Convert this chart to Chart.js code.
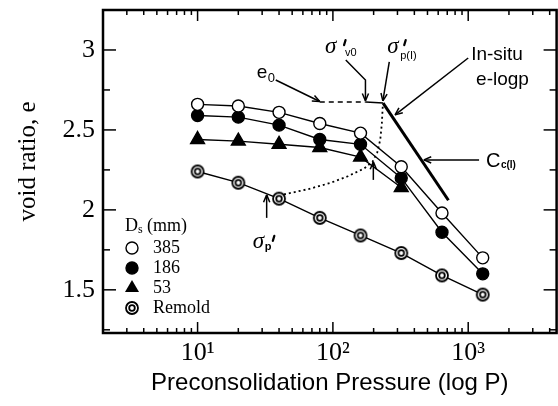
<!DOCTYPE html>
<html>
<head>
<meta charset="utf-8">
<script src="https://cdn.jsdelivr.net/npm/chart.js@4.4.0/dist/chart.umd.min.js"></script>
<style>
  html, body { margin: 0; padding: 0; background: #fff; overflow: hidden; }
  canvas { display: block; }
</style>
</head>
<body>
<canvas id="elogp" width="566" height="406"></canvas>
<script>
// consolidation curves (void ratio vs. pressure) for three sample sizes and remolded clay
const pressure = [10, 20, 40, 80, 160, 320, 640, 1280];
const voidD385 = [2.66, 2.65, 2.61, 2.54, 2.48, 2.27, 1.98, 1.70];
const voidD186 = [2.59, 2.58, 2.53, 2.44, 2.41, 2.20, 1.86, 1.60];
const voidD53 = [2.44, 2.43, 2.41, 2.39, 2.33, 2.14];
const voidRemold = [2.24, 2.17, 2.07, 1.95, 1.84, 1.73, 1.59, 1.47];
const sampleLabels = ['385', '186', '53', 'Remold'];

// in-situ e-logp construction: e0 plateau (dashed), corner, Cc(I) branch (thick)
const plateauP = [80, 175];
const plateauE = [2.675, 2.675];
const cornerP = [175, 235];
const cornerE = [2.675, 2.668];
const branchP = [235, 714];
const branchE = [2.668, 2.06];
// dotted transition from the remolded curve up to sigma'p(I)
const transitionP = [40, 66, 97, 129, 171, 196, 213, 224, 230, 234];
const transitionE = [2.09, 2.13, 2.17, 2.21, 2.26, 2.30, 2.36, 2.44, 2.54, 2.66];

const decadeLabels = { 10: '10\u00b9', 100: '10\u00b2', 1000: '10\u00b3' };
const voidTicks = [1.25, 1.5, 1.75, 2, 2.25, 2.5, 2.75, 3];

const pts = (xs, ys) => xs.map((p, i) => ({ x: p, y: ys[i] }));

// concentric-ring marker for the remolded sample
function ringMarker() {
  const c = document.createElement('canvas');
  c.width = c.height = 16;
  const g = c.getContext('2d');
  g.lineWidth = 1.8;
  g.strokeStyle = '#000';
  g.fillStyle = '#fff';
  g.beginPath(); g.arc(8, 8, 6, 0, Math.PI * 2); g.fill(); g.stroke();
  g.beginPath(); g.arc(8, 8, 2.8, 0, Math.PI * 2); g.stroke();
  return c;
}
const ring = ringMarker();

function series(label, values, style, bg, radius) {
  return {
    label, data: pts(pressure, values),
    borderColor: '#000', borderWidth: 1.4,
    pointStyle: style, pointRadius: radius, pointBackgroundColor: bg,
    pointBorderColor: '#000', pointBorderWidth: 1.4
  };
}
function guide(data, width, dash) {
  return {
    label: '', data, borderColor: '#000', borderWidth: width, borderDash: dash,
    pointRadius: 0, order: 5
  };
}

function line(ctx, x1, y1, x2, y2) {
  ctx.beginPath(); ctx.moveTo(x1, y1); ctx.lineTo(x2, y2); ctx.stroke();
}
function arrow(ctx, path) {
  ctx.beginPath();
  ctx.moveTo(path[0][0], path[0][1]);
  path.slice(1).forEach(p => ctx.lineTo(p[0], p[1]));
  ctx.stroke();
  const [a, b] = path.slice(-2);
  const ang = Math.atan2(b[1] - a[1], b[0] - a[0]);
  [0.4, -0.4].forEach(d => {
    line(ctx, b[0], b[1], b[0] - 8 * Math.cos(ang + d), b[1] - 8 * Math.sin(ang + d));
  });
}
function text(ctx, s, x, y, font, base) {
  ctx.font = font;
  ctx.textBaseline = base || 'alphabetic';
  ctx.fillText(s, x, y);
}
// short heavy prime stroke after a sigma
function prime(ctx, x, y) {
  ctx.save();
  ctx.lineWidth = 2.2;
  ctx.lineCap = 'round';
  line(ctx, x + 1.5, y - 5, x, y);
  ctx.restore();
}
// fixed axis thickness, no overflow padding from tick labels
const fit = size => s => {
  if (s.isHorizontal()) s.height = size; else s.width = size;
  s.paddingTop = s.paddingBottom = s.paddingLeft = s.paddingRight = 0;
};

// inward tick marks and the heavy frame
const frame = {
  id: 'frame',
  afterDatasetsDraw(chart) {
    const { ctx, chartArea: a, scales: { x, y } } = chart;
    ctx.save();
    ctx.strokeStyle = '#000';
    ctx.lineWidth = 1.5;
    for (let d = 1; d <= 1000; d *= 10) {
      for (let m = 1; m <= 9; m++) {
        const v = d * m;
        if (v <= x.min || v >= x.max) continue;
        const px = x.getPixelForValue(v);
        const len = m === 1 ? 11 : 5;
        line(ctx, px, a.bottom, px, a.bottom - len);
        line(ctx, px, a.top, px, a.top + len);
      }
    }
    voidTicks.forEach(v => {
      const py = y.getPixelForValue(v);
      const len = Number.isInteger(v * 2) ? 13 : 7;
      line(ctx, a.left, py, a.left + len, py);
      line(ctx, a.right, py, a.right - len, py);
    });
    ctx.lineWidth = 2.5;
    ctx.strokeRect(a.left, a.top, a.right - a.left, a.bottom - a.top);
    ctx.restore();
  }
};

// legend inside the plot, y title and construction labels
const notes = {
  id: 'notes',
  afterDatasetsDraw(chart) {
    const { ctx, chartArea: a, scales: { x, y } } = chart;
    const at = (p, e) => [x.getPixelForValue(p), y.getPixelForValue(e)];
    ctx.save();
    ctx.fillStyle = '#000';
    ctx.strokeStyle = '#000';
    ctx.lineWidth = 1.5;

    // y title
    ctx.save();
    ctx.translate(35, (a.top + a.bottom) / 2 - 10);
    ctx.rotate(-Math.PI / 2);
    ctx.textAlign = 'center';
    text(ctx, 'void ratio, e', 0, 0, '25px "Liberation Serif"');
    ctx.restore();
    ctx.textAlign = 'left';

    // legend
    const lx = a.left + 22, ly = a.top + 216;
    text(ctx, 'D', lx, ly, '18px "Liberation Serif"', 'middle');
    text(ctx, 's', lx + 13, ly + 4, '12px "Liberation Serif"', 'middle');
    text(ctx, '(mm)', lx + 22, ly, '18px "Liberation Serif"', 'middle');
    const kinds = ['open', 'filled', 'triangle', 'ring'];
    sampleLabels.forEach((s, i) => {
      const cy = ly + 22 + i * 20, cx = lx + 7;
      ctx.lineWidth = 1.4;
      if (kinds[i] === 'open' || kinds[i] === 'filled') {
        ctx.beginPath(); ctx.arc(cx, cy, 6, 0, Math.PI * 2);
        ctx.fillStyle = kinds[i] === 'open' ? '#fff' : '#000';
        ctx.fill(); ctx.stroke();
      } else if (kinds[i] === 'triangle') {
        ctx.beginPath();
        ctx.moveTo(cx, cy - 8); ctx.lineTo(cx + 7, cy + 4); ctx.lineTo(cx - 7, cy + 4);
        ctx.closePath(); ctx.fillStyle = '#000'; ctx.fill();
      } else {
        ctx.drawImage(ring, cx - 8, cy - 8);
      }
      ctx.fillStyle = '#000';
      text(ctx, s, lx + 28, cy, '18px "Liberation Serif"', 'middle');
    });
    ctx.lineWidth = 1.5;

    // e0
    let [px, py] = at(27.4, 2.825);
    text(ctx, 'e', px, py, '19px "Liberation Sans"');
    text(ctx, '0', px + 11, py + 4, '13px "Liberation Sans"');
    arrow(ctx, [at(37.8, 2.8125), at(80, 2.678)]);

    // sigma'v0
    [px, py] = at(87.5, 2.98);
    text(ctx, '\u03c3', px, py, 'italic 23px "Liberation Serif"');
    prime(ctx, px + 19, py - 8);
    text(ctx, 'v0', px + 20, py + 3, '11px "Liberation Sans"');
    arrow(ctx, [at(124.5, 2.9375), at(174, 2.8125), at(174, 2.682)]);

    // sigma'p(I)
    [px, py] = at(252, 2.98);
    text(ctx, '\u03c3', px, py, 'italic 23px "Liberation Serif"');
    prime(ctx, px + 17, py - 8);
    text(ctx, 'p(I)', px + 13, py + 6, '11px "Liberation Sans"');
    arrow(ctx, [at(261, 2.925), at(234, 2.682)]);

    // in-situ e-logp
    [px, py] = at(1052, 2.969);
    text(ctx, 'In-situ', px, py, '19px "Liberation Sans"', 'middle');
    [px, py] = at(1143, 2.8125);
    text(ctx, 'e-logp', px, py, '19px "Liberation Sans"', 'middle');
    arrow(ctx, [at(1000, 2.95), at(288, 2.594)]);

    // Cc(I)
    [px, py] = at(1352, 2.3125);
    text(ctx, 'C', px, py + 7, '20px "Liberation Sans"');
    text(ctx, 'c(I)', px + 15, py + 8, 'bold 10px "Liberation Sans"');
    arrow(ctx, [at(1203, 2.3125), at(470, 2.3125)]);

    // sigma'p on the remolded curve
    [px, py] = at(25.6, 1.7625);
    text(ctx, '\u03c3', px, py, 'italic 23px "Liberation Serif"');
    text(ctx, 'p', px + 12, py + 2, 'bold 11px "Liberation Sans"');
    prime(ctx, px + 20, py - 7);
    arrow(ctx, [at(32.4, 1.95), at(32.4, 2.094)]);

    // arrow under the transition curve
    arrow(ctx, [at(199, 2.1875), at(199, 2.30)]);
    ctx.restore();
  }
};

new Chart(document.getElementById('elogp'), {
  type: 'line',
  data: {
    datasets: [
      series(sampleLabels[0], voidD385, 'circle', '#fff', 6),
      series(sampleLabels[1], voidD186, 'circle', '#000', 6),
      series(sampleLabels[2], voidD53, 'triangle', '#000', 8),
      series(sampleLabels[3], voidRemold, ring, '#fff', 7),
      guide(pts(plateauP, plateauE), 1.5, [5, 4]),
      guide(pts(cornerP, cornerE), 1.5, []),
      guide(pts(branchP, branchE), 3, []),
      guide(pts(transitionP, transitionE), 1.8, [2, 3])
    ]
  },
  options: {
    responsive: false,
    animation: false,
    events: [],
    layout: { padding: 0 },
    plugins: { legend: { display: false }, tooltip: { enabled: false } },
    scales: {
      x: {
        type: 'logarithmic', position: 'bottom', min: 2, max: 4500,
        grid: { display: false, drawTicks: false },
        border: { display: false },
        ticks: {
          autoSkip: false, maxRotation: 0, padding: 5, color: '#000',
          font: { family: 'Liberation Serif', size: 26 },
          callback: v => decadeLabels[v] || ''
        },
        title: {
          display: true, text: 'Preconsolidation Pressure (log P)', color: '#000',
          font: { family: 'Liberation Sans', size: 24 }, padding: { top: 0, bottom: 8 }
        },
        afterFit: fit(73)
      },
      xTop: {
        type: 'logarithmic', position: 'top', min: 2, max: 4500,
        grid: { display: false, drawTicks: false }, border: { display: false },
        ticks: { display: false },
        afterFit: fit(10)
      },
      y: {
        min: 1.23, max: 3.25,
        grid: { display: false, drawTicks: false }, border: { display: false },
        ticks: {
          stepSize: 0.25, padding: 8, color: '#000',
          font: { family: 'Liberation Serif', size: 26 },
          callback: v => Number.isInteger(Math.round(v * 1000) / 500) ? String(Math.round(v * 100) / 100) : ''
        },
        afterFit: fit(103)
      },
      yRight: {
        position: 'right', min: 1.23, max: 3.25,
        grid: { display: false, drawTicks: false }, border: { display: false },
        ticks: { display: false },
        afterFit: fit(4)
      }
    }
  },
  plugins: [frame, notes]
});
</script>
</body>
</html>
